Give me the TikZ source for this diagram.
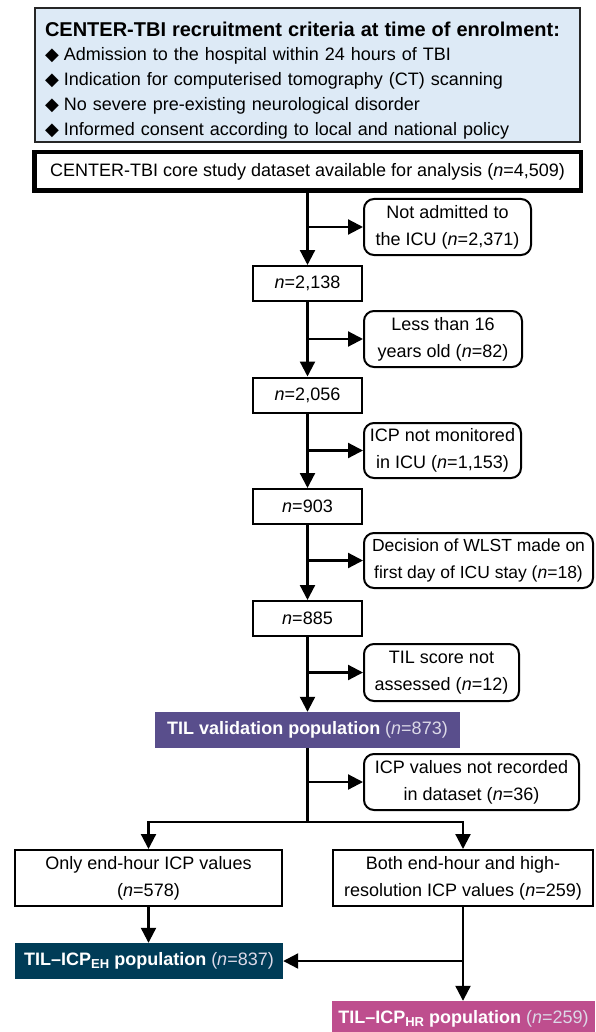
\documentclass[tikz,border=0pt]{standalone}
\usepackage{fontspec}
\setmainfont{Liberation Sans}
\newfontfamily\symfont{DejaVu Sans}
\usetikzlibrary{arrows.meta}

\definecolor{critblue}{HTML}{DDEAF6}
\definecolor{valpurple}{HTML}{594E8C}
\definecolor{ehteal}{HTML}{003C57}
\definecolor{hrpink}{HTML}{BE4E8E}
\definecolor{numgray}{HTML}{DCD9E8}

\newcommand{\nn}{\textit{n}}
\newcommand{\bul}{{\symfont\fontsize{18}{18}\selectfont ◆}\hspace{5pt}}
\newcommand{\subsc}[1]{\raisebox{-3pt}{\fontsize{13}{13}\selectfont #1}}

\tikzset{
    countbox/.style={draw, line width=2pt, minimum width=109pt, minimum height=35pt,
        inner sep=0pt, font=\fontsize{18}{27}\selectfont},
    exclbox/.style={draw, line width=2pt, rounded corners=10pt, align=center,
        inner sep=0pt, font=\fontsize{18}{27}\selectfont},
    popbox/.style={inner sep=0pt, minimum height=36pt, text=white,
        font=\fontsize{18}{26}\selectfont},
    flow/.style={line width=2.2pt, -{Triangle[length=15pt,width=15pt]}},
    plain/.style={line width=2.2pt}
}

\begin{document}
\begin{tikzpicture}[x=1pt,y=-1pt]

    \useasboundingbox (0,0) rectangle (595,1032);
    \clip (0,0) rectangle (595,1032);

    %criteria box:
    \node[draw=black!85, line width=1.5pt, fill=critblue, minimum width=545pt, minimum height=134pt,
        text width=525pt, align=left, inner sep=0pt, font=\fontsize{18}{25}\selectfont]
        (crit) at (307.5,75) {%
        {\fontsize{20}{25}\selectfont\bfseries\rule{0pt}{25pt}CENTER-TBI recruitment criteria at time of enrolment:}\\[-1pt]
        \bul Admission to the hospital within 24 hours of TBI\\
        \bul Indication for computerised tomography (CT) scanning\\
        \bul No severe pre-existing neurological disorder\\
        \bul Informed consent according to local and national policy};

    %dataset:
    \node[draw, line width=4.5pt, minimum width=546.5pt, minimum height=38.5pt, inner sep=0pt,
        font=\fontsize{18}{26}\selectfont]
        (data) at (307.5,171.5) {CENTER-TBI core study dataset available for analysis (\nn=4,509)};

    %counts down the trunk:
    \node[countbox] (n1) at (307.5,283.5) {\nn=2,138};
    \node[countbox] (n2) at (307.5,395) {\nn=2,056};
    \node[countbox] (n3) at (307.5,506.5) {\nn=903};
    \node[countbox] (n4) at (307.5,618.5) {\nn=885};

    %exclusions:
    \node[exclbox, minimum width=167pt, minimum height=56pt] (ex1) at (447.5,227)
        {Not admitted to\\the ICU (\nn=2,371)};
    \node[exclbox, minimum width=158pt, minimum height=56pt] (ex2) at (443,339)
        {Less than 16\\years old (\nn=82)};
    \node[exclbox, minimum width=157pt, minimum height=55pt] (ex3) at (442.5,450.5)
        {ICP not monitored\\in ICU (\nn=1,153)};
    \node[exclbox, minimum width=229pt, minimum height=55pt, font=\fontsize{17.5}{27}\selectfont]
        (ex4) at (478.5,560.5)
        {Decision of WLST made on\\first day of ICU stay (\nn=18)};
    \node[exclbox, minimum width=155pt, minimum height=57pt] (ex5) at (441.5,672.5)
        {TIL score not\\assessed (\nn=12)};
    \node[exclbox, minimum width=215pt, minimum height=56pt] (ex6) at (471.5,782)
        {ICP values not recorded\\in dataset (\nn=36)};

    %populations:
    \node[popbox, fill=valpurple, minimum width=305pt] (val) at (307.5,730)
        {\textbf{TIL validation population} \textcolor{numgray}{(\nn=873)}};
    \node[countbox, minimum width=267pt, minimum height=56pt, align=center] (eh1) at (148.5,878)
        {Only end-hour ICP values\\(\nn=578)};
    \node[countbox, minimum width=260pt, minimum height=56pt, align=center] (hr1) at (463,878)
        {Both end-hour and high-\\resolution ICP values (\nn=259)};
    \node[popbox, fill=ehteal, minimum width=268pt] (ehpop) at (149,961)
        {\textbf{TIL--ICP\subsc{EH} population} \textcolor{numgray}{(\nn=837)}};
    \node[popbox, fill=hrpink, minimum width=263pt] (hrpop) at (463.5,1019)
        {\textbf{TIL--ICP\subsc{HR} population} \textcolor{numgray}{(\nn=259)}};

    %trunk arrows:
    \draw[flow] (data.south) -- (n1.north);
    \draw[flow] (n1.south) -- (n2.north);
    \draw[flow] (n2.south) -- (n3.north);
    \draw[flow] (n3.south) -- (n4.north);
    \draw[flow] (n4.south) -- (val.north);

    %side arrows:
    \draw[flow] (data.south |- ex1.west) -- (ex1.west);
    \draw[flow] (n1.south |- ex2.west) -- (ex2.west);
    \draw[flow] (n2.south |- ex3.west) -- (ex3.west);
    \draw[flow] (n3.south |- ex4.west) -- (ex4.west);
    \draw[flow] (n4.south |- ex5.west) -- (ex5.west);
    \draw[flow] (val.south |- ex6.west) -- (ex6.west);

    %split:
    \coordinate (split) at (307.5,822);
    \draw[plain] (val.south) -- (split);
    \draw[flow] (split) -| (eh1.north);
    \draw[flow] (split) -| (hr1.north);

    %to the populations:
    \draw[flow] (eh1.south) -- (eh1.south |- ehpop.north);
    \draw[flow] (hr1.south) -- (hr1.south |- hrpop.north);
    \draw[flow] (hr1.south |- ehpop.east) -- (ehpop.east);

\end{tikzpicture}
\end{document}
